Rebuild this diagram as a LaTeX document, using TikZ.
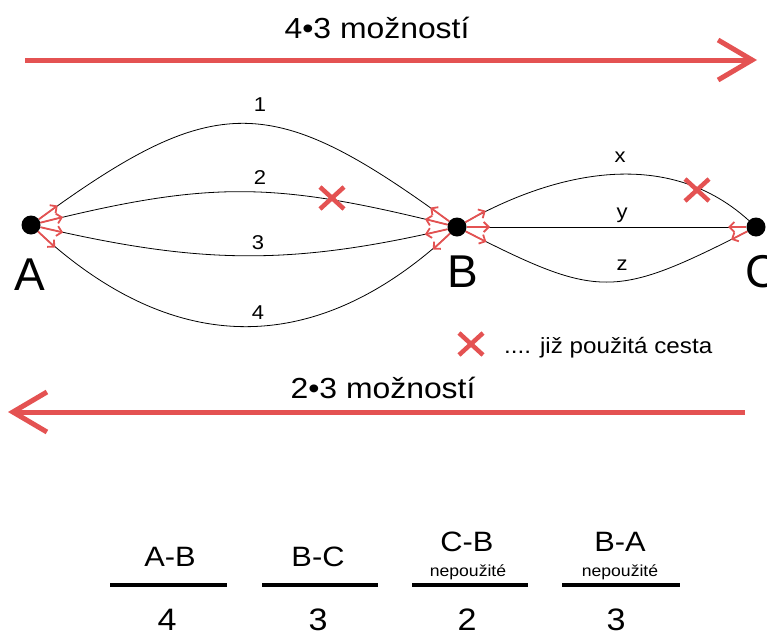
\documentclass[tikz,border=0pt]{standalone}
\usepackage{fontspec}
\setmainfont{Liberation Sans}
\newfontfamily\widesans[FakeStretch=1.1]{Liberation Sans}
\usetikzlibrary{arrows.meta,calc}
\definecolor{markred}{RGB}{228,82,82}
\newcommand\fs[1]{\fontsize{#1}{#1}\selectfont}
\newcommand\drawcross[1]{%
  \draw[cross] ($(#1)+(-12,-11)$) -- ($(#1)+(12,11)$)
               ($(#1)+(-12,11)$) -- ($(#1)+(12,-11)$);}
\begin{document}
\begin{tikzpicture}[x=1pt,y=-1pt,
  dot/.style={circle,fill=black,inner sep=0pt,minimum size=19pt},
  route/.style={black,line width=0.8pt},
  tick/.style={markred,line width=1.8pt,-{Straight Barb[length=5pt,width=10pt]}},
  big/.style={markred,line width=5pt,-{Straight Barb[length=34pt,width=40pt]}},
  cross/.style={markred,line width=4.5pt},
  lbl/.style={inner sep=0pt,font=\widesans\fs{20}},
  place/.style={inner sep=0pt,font=\fs{46}},
  head/.style={inner sep=0pt,font=\widesans\fs{28}},
  note/.style={inner sep=0pt,font=\widesans\fs{16}},
  count/.style={inner sep=0pt,font=\widesans\fs{31}},
  bar/.style={black,line width=3.5pt}
]
\useasboundingbox (0,0) rectangle (767,637);

% the three places
\node[dot] (A) at (31,225) {};
\node[dot] (B) at (457,227) {};
\node[dot] (C) at (756,227) {};
\node[place] (Al) at (30,275) {A};
\node[place] (Bl) at (463,272) {B};
\node[place] (Cl) at (762,272) {C};

% control points of the roads
\coordinate (c1a) at (216,90);  \coordinate (c1b) at (272,92);
\coordinate (c2a) at (212,180); \coordinate (c2b) at (276,182);
\coordinate (c3a) at (199,264); \coordinate (c3b) at (289,266);
\coordinate (c4a) at (173,357); \coordinate (c4b) at (315,359);
\coordinate (cxa) at (540,180); \coordinate (cxb) at (660,140);
\coordinate (cza) at (599,299); \coordinate (czb) at (614,299);

% roads A-B
\draw[route] (A) .. controls (c1a) and (c1b) .. (B);
\draw[route] (A) .. controls (c2a) and (c2b) .. (B);
\draw[route] (A) .. controls (c3a) and (c3b) .. (B);
\draw[route] (A) .. controls (c4a) and (c4b) .. (B);
% roads B-C
\draw[route] (B) .. controls (cxa) and (cxb) .. (C);
\draw[route] (B) -- (C);
\draw[route] (B) .. controls (cza) and (czb) .. (C);

% road labels
\node[lbl] (l1) at (260,105) {1};
\node[lbl] (l2) at (260,178) {2};
\node[lbl] (l3) at (258,243) {3};
\node[lbl] (l4) at (258,313) {4};
\node[lbl] (lx) at (620,157) {x};
\node[lbl] (ly) at (622,215) {y};
\node[lbl] (lz) at (622,265) {z};

% direction ticks
\foreach \c in {c1a,c2a,c3a,c4a}
  \draw[tick] (A) -- ($(A.center)!33pt!(\c)$);
\foreach \c in {c1b,c2b,c3b,c4b,cxa,C,cza}
  \draw[tick] (B) -- ($(B.center)!33pt!(\c)$);
\foreach \c in {B,czb}
  \draw[tick] (C) -- ($(C.center)!28pt!(\c)$);

% used roads
\coordinate (u2) at (332,198);
\coordinate (ux) at (697,190);
\drawcross{u2}
\drawcross{ux}

% legend
\coordinate (ul) at (471,344);
\drawcross{ul}
\node[inner sep=0pt,anchor=west,font=\widesans\fs{22}] (legend) at (504,348) {.... již použitá cesta};

% direction arrows
\coordinate (t0) at (25,60);  \coordinate (t1) at (757,60);
\draw[big] (t0) -- (t1);
\node[inner sep=0pt,font=\widesans\fs{29}] (top) at (377,28) {4•3 možností};
\coordinate (b0) at (745,412); \coordinate (b1) at (8,412);
\draw[big] (b0) -- (b1);
\node[inner sep=0pt,font=\widesans\fs{29}] (bot) at (383,388) {2•3 možností};

% counting table
\node[head] (h1) at (170,557) {A-B};
\node[head] (h2) at (318,557) {B-C};
\node[head] (h3) at (467,542) {C-B};
\node[head] (h4) at (620,542) {B-A};
\node[note] (n3) at (468,572) {nepoužité};
\node[note] (n4) at (620,572) {nepoužité};
\draw[bar] (110,585) -- (227,585);
\draw[bar] (262,585) -- (378,585);
\draw[bar] (412,585) -- (528,585);
\draw[bar] (562,585) -- (680,585);
\node[count] (k1) at (167,620) {4};
\node[count] (k2) at (318,620) {3};
\node[count] (k3) at (467,620) {2};
\node[count] (k4) at (616,620) {3};
\end{tikzpicture}
\end{document}
